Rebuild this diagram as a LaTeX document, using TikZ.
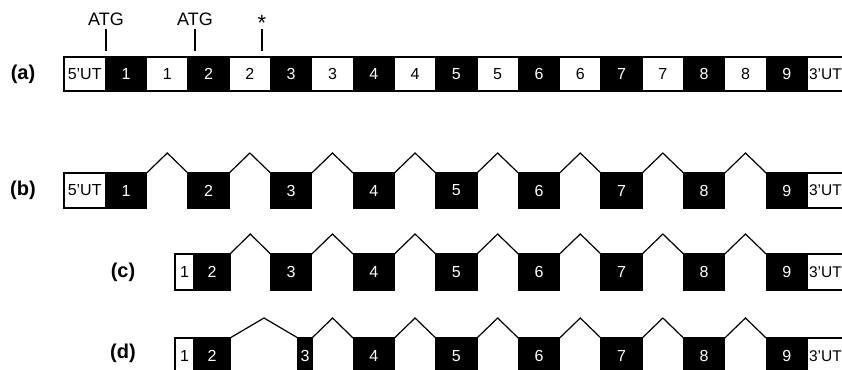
\documentclass[tikz,border=0pt]{standalone}
\usepackage{fontspec}
\setmainfont{Liberation Sans}
\usetikzlibrary{calc}

\tikzset{
  box/.style={draw, line width=1.2pt, inner sep=0pt, outer sep=0pt, anchor=west,
    minimum width=41.3, minimum height=35, font=\fontsize{16}{18}\selectfont},
  exon/.style={box, fill=black, text=white},
  utr/.style={box, fill=white},
  tail/.style={utr, inner xsep=1.6, text width=38.1, align=left, font=\fontsize{15.5}{18}\selectfont},
  intron/.style={to path={-- ($(\tikztostart)!0.5!(\tikztotarget)+(0,-20)$) -- (\tikztotarget)}},
  site/.style={anchor=south, inner sep=0pt, outer ysep=3pt, font=\fontsize{18}{20}\selectfont},
  rowlabel/.style={font=\fontsize{20}{22}\selectfont\bfseries}
}

\begin{document}
\begin{tikzpicture}[x=1pt, y=-1pt, line width=1.2pt]
		\clip (0,0) rectangle (842,369);

		% (a) genomic exons
		\node[rowlabel] (la) at (23,74) {(a)};
		\node[utr, minimum height=34] (a0) at (64,74) {5’UT};
		\foreach \k in {1,...,8}
			\node[utr, minimum height=34] (w\k) at ({64+41.3*(2*\k)},74) {\k};
		\foreach \k in {1,...,9}
			\node[exon, minimum height=34] (a\k) at ({64+41.3*(2*\k-1)},74) {\k};
		\node[tail, minimum height=34] (a10) at (807.4,74) {3’UT};

		% start codons and stop
		\node[site] (atg1) at (106,29) {ATG};
		\node[site] (atg2) at (195,29) {ATG};
		\node[site, outer ysep=-2pt, font=\fontsize{22}{24}\selectfont] (stop) at (262,29) {*};
		\coordinate (p1) at (106,51);
		\coordinate (p2) at (195,51);
		\coordinate (p3) at (262,51);
		\draw (p1) -- (atg1);
		\draw (p2) -- (atg2);
		\draw (p3) -- (stop);

		% (b)
		\node[rowlabel] (lb) at (23,190.5) {(b)};
		\node[utr] (b0) at (64,190.5) {5’UT};
		\foreach \k in {1,...,9}
			\node[exon] (b\k) at ({64+41.3*(2*\k-1)},190.5) {\k};
		\node[tail] (b10) at (807.4,190.5) {3’UT};
		\foreach \k [count=\n from 2] in {1,...,8}
			\draw (b\k.north east) to[intron] (b\n.north west);

		% (c)
		\node[rowlabel] (lc) at (123,272) {(c)};
		\node[utr, minimum width=19, minimum height=36] (c1) at (175,272) {1};
		\node[exon, minimum width=36, minimum height=36] (c2) at (194,272) {2};
		\foreach \k in {3,...,9}
			\node[exon, minimum height=36] (c\k) at ({64+41.3*(2*\k-1)},272) {\k};
		\node[tail, minimum height=36] (c10) at (807.4,272) {3’UT};
		\foreach \k [count=\n from 3] in {2,...,8}
			\draw (c\k.north east) to[intron] (c\n.north west);

		% (d) short exon 3
		\node[rowlabel] (ld) at (123,353) {(d)};
		\node[utr, minimum width=19, minimum height=36] (d1) at (175,356) {1};
		\node[exon, minimum width=36, minimum height=36] (d2) at (194,356) {2};
		\node[exon, minimum width=14, minimum height=36] (d3) at (298,356) {3};
		\foreach \k in {4,...,9}
			\node[exon, minimum height=36] (d\k) at ({64+41.3*(2*\k-1)},356) {\k};
		\node[tail, minimum height=36] (d10) at (807.4,356) {3’UT};
		\foreach \k [count=\n from 3] in {2,...,8}
			\draw (d\k.north east) to[intron] (d\n.north west);
	\end{tikzpicture}
\end{document}
